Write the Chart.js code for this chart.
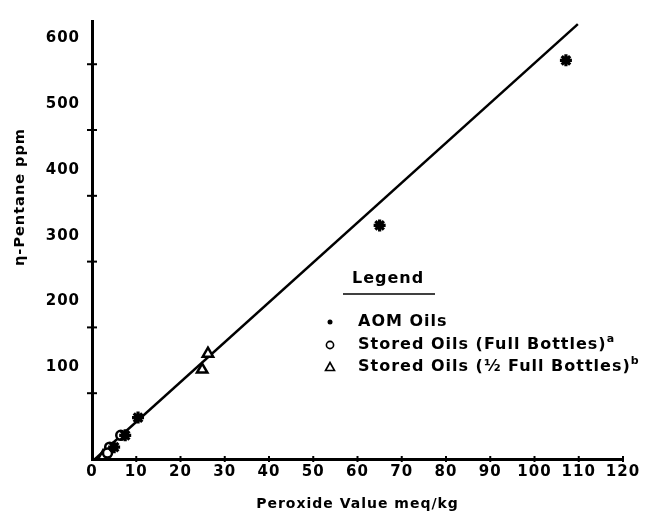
<!DOCTYPE html>
<html><head><meta charset="utf-8">
<script src="https://cdn.jsdelivr.net/npm/chart.js@4.4.1/dist/chart.umd.min.js"></script>
<style>html,body{margin:0;padding:0;background:#fff;}#wrap{width:648px;height:517px;}</style>
</head><body><div id="wrap"><canvas id="c" width="648" height="517"></canvas></div>
<script>
// ---- data ----
const xTicks = [0,10,20,30,40,50,60,70,80,90,100,110,120];
const yTicks = [100,200,300,400,500,600];
const aomX = [107.1, 65, 10.4, 7.5, 5.0];
const aomY = [606, 355, 63, 36, 18];
const fullX = [6.5, 4.0, 3.5];
const fullY = [36, 18, 9];
const halfX = [26.2, 24.9, 2.5];
const halfY = [160, 136, 4];
const fitX = [0.7, 109.8];
const fitY = [0, 661];
const seriesNames = ['AOM Oils', 'Stored Oils (Full Bottles)', 'Stored Oils (\u00BD Full Bottles)'];
const seriesSup = ['', 'a', 'b'];
const legendTitle = 'Legend';
const xTitle = 'Peroxide Value meq/kg';
const yTitle = '\u03B7-Pentane ppm';

const pts = (xs, ys) => xs.map((x, i) => ({x: x, y: ys[i]}));
const FONT = 'DejaVu Sans';

const spacing = {
  id: 'spacing',
  beforeDraw(chart) { chart.ctx.letterSpacing = '1px'; }
};

const decor = {
  id: 'decor',
  afterDraw(chart) {
    const ctx = chart.ctx;
    const xs = chart.scales.x, ys = chart.scales.y;
    const ca = chart.chartArea;
    ctx.save();
    ctx.strokeStyle = '#000';
    ctx.fillStyle = '#000';
    // cross tick marks
    ctx.lineWidth = 2;
    yTicks.forEach(v => {
      const p = ys.getPixelForValue(v);
      ctx.beginPath(); ctx.moveTo(ca.left - 5, p); ctx.lineTo(ca.left + 5, p); ctx.stroke();
    });
    xTicks.slice(1).forEach(v => {
      const p = xs.getPixelForValue(v);
      ctx.beginPath(); ctx.moveTo(p, ca.bottom - 3); ctx.lineTo(p, ca.bottom + 3); ctx.stroke();
    });
    // y title
    ctx.save();
    ctx.letterSpacing = '1px';
    ctx.translate(20, 197);
    ctx.rotate(-Math.PI / 2);
    ctx.font = 'bold 14.5px "' + FONT + '"';
    ctx.textAlign = 'center'; ctx.textBaseline = 'middle';
    ctx.fillText(yTitle, 0, 0);
    ctx.restore();
    // legend
    ctx.letterSpacing = '1px';
    ctx.font = 'bold 16px "' + FONT + '"';
    ctx.textAlign = 'left'; ctx.textBaseline = 'middle';
    ctx.fillText(legendTitle, 352, 279);
    ctx.lineWidth = 1.5;
    ctx.beginPath(); ctx.moveTo(343, 294); ctx.lineTo(435, 294); ctx.stroke();
    const rows = [322, 345, 367];
    const mx = 330, tx = 358;
    ctx.beginPath(); ctx.arc(mx, rows[0], 2.5, 0, Math.PI * 2); ctx.fill();
    ctx.lineWidth = 1.6;
    ctx.beginPath(); ctx.arc(mx, rows[1], 3.6, 0, Math.PI * 2); ctx.stroke();
    ctx.beginPath(); ctx.moveTo(mx, rows[2] - 4.5); ctx.lineTo(mx + 4.5, rows[2] + 3.5); ctx.lineTo(mx - 4.5, rows[2] + 3.5); ctx.closePath(); ctx.stroke();
    seriesNames.forEach((t, i) => {
      ctx.font = 'bold 16px "' + FONT + '"';
      ctx.fillText(t, tx, rows[i]);
      if (seriesSup[i]) {
        const w = ctx.measureText(t).width;
        ctx.font = 'bold 11px "' + FONT + '"';
        ctx.fillText(seriesSup[i], tx + w, rows[i] - 6);
      }
    });
    ctx.restore();
  }
};

new Chart(document.getElementById('c'), {
  type: 'scatter',
  data: {
    datasets: [
      {label: 'fit', type: 'line', data: pts(fitX, fitY), borderColor: '#000', borderWidth: 2.5,
       pointRadius: 0, showLine: true, fill: false, order: 5},
      {label: seriesNames[0], data: pts(aomX, aomY), pointStyle: 'star', pointRadius: 6,
       borderWidth: 3.2, borderColor: '#000', backgroundColor: '#000', order: 1},
      {label: seriesNames[1], data: pts(fullX, fullY), pointStyle: 'circle', pointRadius: 4.5,
       borderWidth: 2.5, borderColor: '#000', backgroundColor: '#fff', order: 2},
      {label: seriesNames[2], data: pts(halfX, halfY), pointStyle: 'triangle', pointRadius: 6,
       borderWidth: 2.5, borderColor: '#000', backgroundColor: '#fff', order: 3}
    ]
  },
  options: {
    responsive: false, animation: false, devicePixelRatio: 1,
    layout: {padding: {top: 13, right: 25, left: 0, bottom: 0}},
    plugins: {legend: {display: false}, tooltip: {enabled: false}},
    scales: {
      x: {
        type: 'linear', min: 0, max: 120,
        afterBuildTicks: s => { s.ticks = xTicks.map(v => ({value: v})); },
        afterFit: s => { s.height = 58; },
        grid: {display: true, drawOnChartArea: false, drawTicks: false},
        border: {display: true, width: 3, color: '#000'},
        ticks: {padding: 4, color: '#000', maxRotation: 0, autoSkip: false,
                font: {family: FONT, weight: 'bold', size: 15}},
        title: {display: true, text: xTitle, color: '#000', padding: {top: 0, bottom: 4},
                font: {family: FONT, weight: 'bold', size: 14}}
      },
      y: {
        type: 'linear', min: 0, max: 665.7,
        afterBuildTicks: s => { s.ticks = yTicks.map(v => ({value: v})); },
        afterFit: s => { s.width = 92; },
        grid: {display: true, drawOnChartArea: false, drawTicks: false},
        border: {display: true, width: 3, color: '#000'},
        ticks: {padding: 12, labelOffset: -26, color: '#000', autoSkip: false,
                font: {family: FONT, weight: 'bold', size: 15}}
      }
    }
  },
  plugins: [spacing, decor]
});
</script></body></html>
